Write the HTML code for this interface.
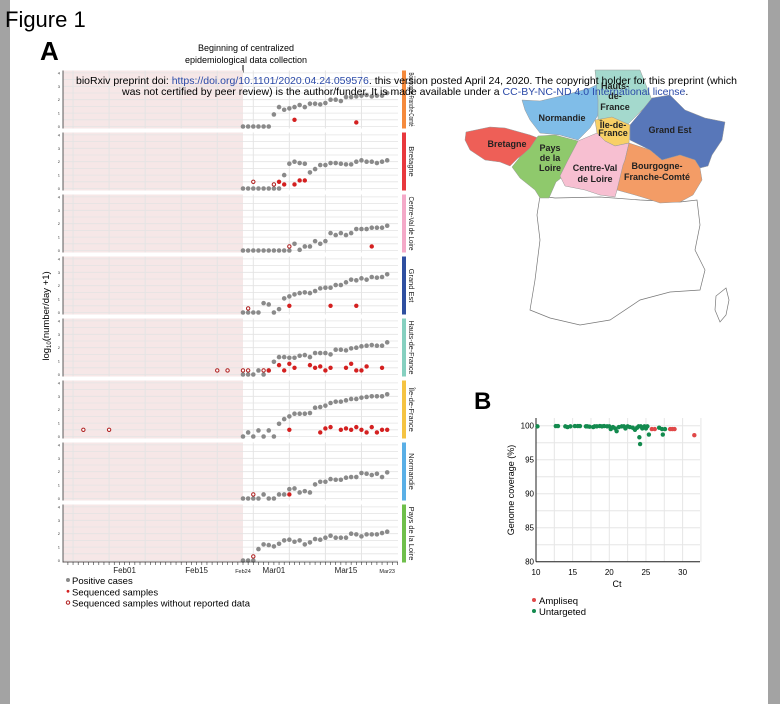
<!DOCTYPE html>
<html><head><meta charset="utf-8"><style>
html,body{margin:0;padding:0;background:#a3a3a3;}
#page{position:absolute;left:10px;top:0;width:758px;height:704px;background:#fff;}
svg{position:absolute;left:0;top:0;font-family:"Liberation Sans",sans-serif;}
</style></head><body>
<div id="page"></div>
<svg id="fig" width="780" height="704">
<text x="5" y="27" font-size="22">Figure 1</text>
<text x="40" y="60" font-size="26" font-weight="bold">A</text>
<text x="474" y="409" font-size="24" font-weight="bold">B</text>
<text x="246" y="51" font-size="9" text-anchor="middle">Beginning of centralized</text>
<text x="246" y="63" font-size="9" text-anchor="middle">epidemiological data collection</text>
<line x1="243" y1="65" x2="243" y2="73" stroke="#000"/>
<g id="map">
<polygon fill="#fff" stroke="#777" stroke-width="0.7" points="540,196 537,215 540,240 535,280 530,310 550,318 580,325 610,320 640,300 670,292 700,290 705,270 695,250 700,225 697,200 680,202 640,200 600,197 555,198"/>
<polygon fill="#fff" stroke="#777" stroke-width="0.7" points="726,288 729,300 726,315 720,322 715,310 716,296"/>
<polygon fill="#ee5f57" stroke="#999" stroke-width="0.5" points="466,132 490,127 505,128 530,135 538,138 530,150 518,158 510,166 500,162 485,160 470,150 465,140"/>
<polygon fill="#8fc96c" stroke="#999" stroke-width="0.5" points="538,136 555,135 578,141 570,160 565,175 556,182 549,198 540,198 535,190 520,178 512,167 520,157 530,148"/>
<polygon fill="#80bde8" stroke="#999" stroke-width="0.5" points="522,100 540,101 565,95 590,88 600,83 598,115 595,120 590,128 578,140 560,135 540,133 530,120 525,110"/>
<polygon fill="#a4d9cd" stroke="#999" stroke-width="0.5" points="595,70 640,70 652,100 637,115 628,124 612,118 598,120 598,100"/>
<polygon fill="#5877b9" stroke="#999" stroke-width="0.5" points="652,98 670,95 685,110 705,118 725,122 722,140 712,155 708,166 700,168 695,160 680,155 662,160 650,150 630,140 630,125 640,113"/>
<polygon fill="#f8d066" stroke="#999" stroke-width="0.5" points="595,120 612,117 630,125 629,143 615,146 605,141 597,133"/>
<polygon fill="#f7bfd1" stroke="#999" stroke-width="0.5" points="578,141 597,133 605,141 615,146 629,143 625,160 620,180 615,197 600,195 585,190 565,186 560,176 568,160"/>
<polygon fill="#f39c66" stroke="#999" stroke-width="0.5" points="629,143 650,150 662,160 680,155 695,160 700,168 702,180 693,195 680,202 660,203 645,198 635,195 617,190 623,165 625,160"/>
<g font-size="9" font-weight="bold" fill="#222" text-anchor="middle">
<text x="507" y="147">Bretagne</text>
<text x="550" y="151">Pays</text>
<text x="550" y="161">de la</text>
<text x="550" y="171">Loire</text>
<text x="562" y="121">Normandie</text>
<text x="615" y="89">Hauts-</text>
<text x="615" y="99">de-</text>
<text x="615" y="110">France</text>
<text x="613" y="128">Île-de-</text>
<text x="613" y="136">France</text>
<text x="670" y="133">Grand Est</text>
<text x="595" y="171">Centre-Val</text>
<text x="595" y="182">de Loire</text>
<text x="657" y="169">Bourgogne-</text>
<text x="657" y="180">Franche-Comté</text>
</g></g>
<g id="panelA"></g>
<g id="panelB"></g>
<g font-size="10.5">
<text x="76" y="84">bioRxiv preprint doi: <tspan fill="#2b4aa8">https://doi.org/10.1101/2020.04.24.059576</tspan>. this version posted April 24, 2020. The copyright holder for this preprint (which</text>
<text x="122" y="95">was not certified by peer review) is the author/funder. It is made available under a <tspan fill="#2b4aa8">CC-BY-NC-ND 4.0 International license</tspan>.</text>
</g>
</svg>
<script>
// ---- Panel A data (days relative to Feb24) ----
const regions = ["Bourgogne-Franche-Comté","Bretagne","Centre-Val de Loire","Grand Est","Hauts-de-France","Île-de-France","Normandie","Pays de la Loire"];
const regionColors = ["#f58a3c","#e8383d","#f4a9c8","#2f4fa0","#86d0c0","#f5c342","#5aafe6","#6fbf4b"];
const casesBFC = [0,0,0,0,0,0,0.9,1.45,1.25,1.35,1.45,1.6,1.45,1.7,1.7,1.65,1.75,2.0,2.0,1.9,2.2,2.2,2.25,2.3,2.35,2.25,2.3,2.3,2.5];
const casesBRE = [0,0,0,0,0,0,0,0,1.0,1.85,2.0,1.9,1.85,1.2,1.45,1.75,1.75,1.9,1.9,1.85,1.8,1.8,2.0,2.1,2.0,2.0,1.9,2.0,2.1];
const casesCVL = [0,0,0,0,0,0,0,0,0,0,0.5,0.05,0.3,0.3,0.7,0.5,0.7,1.3,1.15,1.3,1.15,1.3,1.6,1.6,1.6,1.7,1.7,1.7,1.85];
const casesGE  = [0,0,0,0,0.7,0.6,0,0.25,1.05,1.2,1.35,1.45,1.5,1.45,1.6,1.8,1.85,1.85,2.05,2.05,2.25,2.45,2.4,2.55,2.45,2.65,2.6,2.65,2.85];
const casesHDF = [0,0,0,0.3,0,0.3,0.95,1.3,1.3,1.25,1.25,1.4,1.45,1.3,1.6,1.6,1.6,1.5,1.85,1.85,1.8,1.95,2.0,2.1,2.15,2.2,2.15,2.15,2.4];
const casesIDF = [0,0.3,0,0.45,0,0.45,0,0.95,1.3,1.5,1.7,1.7,1.7,1.75,2.15,2.2,2.3,2.5,2.6,2.6,2.7,2.8,2.8,2.9,2.95,3.0,3.0,3.0,3.15];
const casesNOR = [0,0,0,0,0.3,0,0,0.3,0.3,0.7,0.75,0.45,0.55,0.45,1.05,1.25,1.25,1.45,1.4,1.4,1.55,1.6,1.6,1.9,1.85,1.75,1.85,1.6,1.95];
const casesPDL = [0,0,0,0.85,1.2,1.15,1.05,1.25,1.5,1.55,1.4,1.5,1.2,1.35,1.6,1.55,1.7,1.85,1.7,1.7,1.7,2.0,1.95,1.8,1.95,1.95,1.95,2.05,2.15];
const casesAll = [casesBFC,casesBRE,casesCVL,casesGE,casesHDF,casesIDF,casesNOR,casesPDL];
const seqBFC = [[10,0.5],[22,0.3]];
const seqBRE = [[7,0.5],[8,0.3],[10,0.3],[11,0.6],[12,0.6]];
const seqCVL = [[25,0.3]];
const seqGE  = [[9,0.5],[17,0.5],[22,0.5]];
const seqHDF = [[5,0.3],[7,0.7],[8,0.3],[9,0.8],[10,0.5],[13,0.7],[14,0.5],[15,0.6],[16,0.3],[17,0.5],[20,0.5],[21,0.8],[22,0.3],[23,0.3],[24,0.6],[27,0.5]];
const seqIDF = [[9,0.5],[15,0.3],[16,0.6],[17,0.7],[19,0.5],[20,0.6],[21,0.5],[22,0.7],[23,0.5],[24,0.3],[25,0.7],[26,0.3],[27,0.5],[28,0.5]];
const seqNOR = [[9,0.3]];
const seqPDL = [];
const seqAll = [seqBFC,seqBRE,seqCVL,seqGE,seqHDF,seqIDF,seqNOR,seqPDL];
const openBFC = [], openBRE = [[2,0.5],[6,0.3]], openCVL = [[9,0.3]], openGE = [[1,0.3]];
const openHDF = [[-5,0.3],[-3,0.3],[0,0.3],[1,0.3],[4,0.3]];
const openIDF = [[-31,0.5],[-26,0.5]];
const openNOR = [[2,0.3]], openPDL = [[2,0.3]];
const openAll = [openBFC,openBRE,openCVL,openGE,openHDF,openIDF,openNOR,openPDL];
const yTicksA = [0,1,2,3,4];
const dateLabels = ["Feb01","Feb15","Feb24","Mar01","Mar15","Mar23"];
const dateDays = [-23,-9,0,6,20,28];

// ---- Panel B data ----
const untargetedCt = [10.2,12.7,13,14,14.3,14.7,15.3,15.7,16,16.8,17,17.3,17.8,18,18.3,18.7,19,19.3,19.7,20,20.2,20.5,20.8,21,21.3,21.7,22,22.2,22.5,22.8,23.2,23.5,23.8,24,24.1,24.2,24.3,24.5,24.8,25,25.2,25.4,26.8,27.2,27.3,27.6];
const untargetedCov = [99.9,99.95,99.95,99.9,99.8,99.9,99.95,99.95,99.95,99.9,99.9,99.85,99.8,99.9,99.9,99.95,99.9,99.95,99.9,99.9,99.5,99.8,99.6,99.2,99.8,99.9,99.9,99.6,99.9,99.8,99.7,99.4,99.7,99.9,98.3,97.3,99.9,99.6,99.9,99.6,99.9,98.7,99.7,99.5,98.7,99.5];
const ampliCt = [25.8,26.2,28.3,28.6,28.9,31.6];
const ampliCov = [99.5,99.5,99.5,99.5,99.5,98.6];
const xTicksB = [10,15,20,25,30];
const yTicksB = [80,85,90,95,100];

const NS="http://www.w3.org/2000/svg";
function mk(parent,tag,attrs,text){const e=document.createElementNS(NS,tag);for(const k in attrs)e.setAttribute(k,attrs[k]);if(text!==undefined)e.textContent=text;parent.appendChild(e);return e;}

const xA = d => 243 + d*5.15;
const panelY0 = i => 126.5 + i*62;
const yA = (i,v) => panelY0(i) - v*13.4;
const gA = document.getElementById('panelA');
const LEFT=63, RIGHT=398;
for(let i=0;i<regions.length;i++){
  const y0=panelY0(i), top=y0-56, bot=y0+2;
  const bg=mk(gA,'rect',{x:LEFT,y:top,width:xA(0)-LEFT,height:bot-top,fill:'#f6e7e7'});
  
  
  for(let v=0;v<=4;v+=0.5){
    const l=mk(gA,'line',{x1:LEFT,x2:RIGHT,y1:yA(i,v),y2:yA(i,v),stroke:'#e4e4e4','stroke-width':0.8});
    
    
  }
  for(let d=-33;d<=28;d+=7){
    const l=mk(gA,'line',{x1:xA(d),x2:xA(d),y1:top,y2:bot,stroke:'#e4e4e4','stroke-width':1});
    
    
  }
  const ax=mk(gA,'line',{x1:LEFT,x2:LEFT,y1:top,y2:bot,stroke:'#333','stroke-width':0.8});
  
  
  yTicksA.forEach(t=>{
    const tx=mk(gA,'text',{x:LEFT-3,y:yA(i,t)+1.5,'font-size':4,'text-anchor':'end',fill:'#333'},t);
    
    
  });
  const bar=mk(gA,'rect',{x:402,y:top,width:4,height:bot-top,fill:regionColors[i]});
  
  
  const lab=mk(gA,'text',{x:0,y:0,'font-size':7.5,transform:`translate(409,${(top+bot)/2}) rotate(90)`,'text-anchor':'middle',fill:'#222'},regions[i]);
  
  
  const len = lab.getComputedTextLength ? lab.getComputedTextLength() : 0;
  if(len>54){ lab.setAttribute('textLength','54'); lab.setAttribute('lengthAdjust','spacingAndGlyphs'); }
  casesAll[i].forEach((v,d)=>{
    const c=mk(gA,'circle',{cx:xA(d),cy:yA(i,v),r:2.3,fill:'#8a8a8a'});
    
    
  });
  seqAll[i].forEach(p=>{
    const c=mk(gA,'circle',{cx:xA(p[0]),cy:yA(i,p[1]),r:2.2,fill:'#d42020'});
    
    
  });
  openAll[i].forEach(p=>{
    const c=mk(gA,'circle',{cx:xA(p[0]),cy:yA(i,p[1]),r:1.7,fill:'#fff',stroke:'#b02020','stroke-width':1});
    
    
  });
}
const xBase=562;
const xax=mk(gA,'line',{x1:LEFT,x2:RIGHT,y1:xBase,y2:xBase,stroke:'#333','stroke-width':0.8});


for(let d=-34;d<=30;d++){
  const t=mk(gA,'line',{x1:xA(d),x2:xA(d),y1:xBase,y2:xBase+3,stroke:'#333','stroke-width':0.6});
  
  
}
dateLabels.forEach((s,k)=>{
  const small = (s==="Feb24"||s==="Mar23");
  const t=mk(gA,'text',{x:xA(dateDays[k]),y:xBase+11,'font-size':small?5.5:8,'text-anchor':'middle',fill:'#222'},s);
  
  
});
const yl=mk(gA,'text',{x:0,y:0,'font-size':9.5,transform:'translate(49,316) rotate(-90)','text-anchor':'middle'},'');


mk(yl,'tspan',{},'log');mk(yl,'tspan',{'font-size':6,dy:2},'10');mk(yl,'tspan',{dy:-2},'(number/day +1)');
const legA=[["#8a8a8a","Positive cases",'fill'],["#d42020","Sequenced samples",'small'],["#b02020","Sequenced samples without reported data",'open']];
legA.forEach((L,k)=>{
  const y=583+k*11.3;
  let c;
  if(L[2]==='open') c=mk(gA,'circle',{cx:68,cy:y-3,r:1.7,fill:'#fff',stroke:L[0],'stroke-width':1});
  else c=mk(gA,'circle',{cx:68,cy:y-3,r:L[2]==='small'?1.4:2,fill:L[0]});
  
  
  const t=mk(gA,'text',{x:72,y:y+1,'font-size':9.5},L[1]);
  
  
});

const gB=document.getElementById('panelB');
const xB = c => 536 + (c-10)*7.33;
const yB = v => 561.7 - (v-80)*6.8;
for(let c=10;c<=32.5;c+=2.5){const l=mk(gB,'line',{x1:xB(c),x2:xB(c),y1:418,y2:561.7,stroke:'#e6e6e6'});}
for(let v=80;v<=100;v+=2.5){const l=mk(gB,'line',{x1:536,x2:700,y1:yB(v),y2:yB(v),stroke:'#e6e6e6'});}
const bx=mk(gB,'line',{x1:536,x2:700,y1:561.7,y2:561.7,stroke:'#222'});
const by=mk(gB,'line',{x1:536,x2:536,y1:418,y2:561.7,stroke:'#222'});
xTicksB.forEach(t=>{const e=mk(gB,'text',{x:xB(t),y:575,'font-size':8,'text-anchor':'middle'},t);});
yTicksB.forEach(t=>{const e=mk(gB,'text',{x:534,y:yB(t)+3,'font-size':8,'text-anchor':'end'},t);});
const bxt=mk(gB,'text',{x:617,y:587,'font-size':9,'text-anchor':'middle'},'Ct');
const byt=mk(gB,'text',{x:0,y:0,'font-size':9,transform:'translate(514,490) rotate(-90)','text-anchor':'middle'},'Genome coverage (%)');
untargetedCt.forEach((c,k)=>{const e=mk(gB,'circle',{cx:xB(c),cy:yB(untargetedCov[k]),r:2.2,fill:'#138a4e'});});
ampliCt.forEach((c,k)=>{const e=mk(gB,'circle',{cx:xB(c),cy:yB(ampliCov[k]),r:2.2,fill:'#e04848'});});
[["#e04848","Ampliseq"],["#138a4e","Untargeted"]].forEach((L,k)=>{
  const y=603+k*11;
  const c=mk(gB,'circle',{cx:534,cy:y-3,r:2,fill:L[0]});
  const t=mk(gB,'text',{x:539,y:y+1,'font-size':9.5},L[1]);
});
</script>
</body></html>
